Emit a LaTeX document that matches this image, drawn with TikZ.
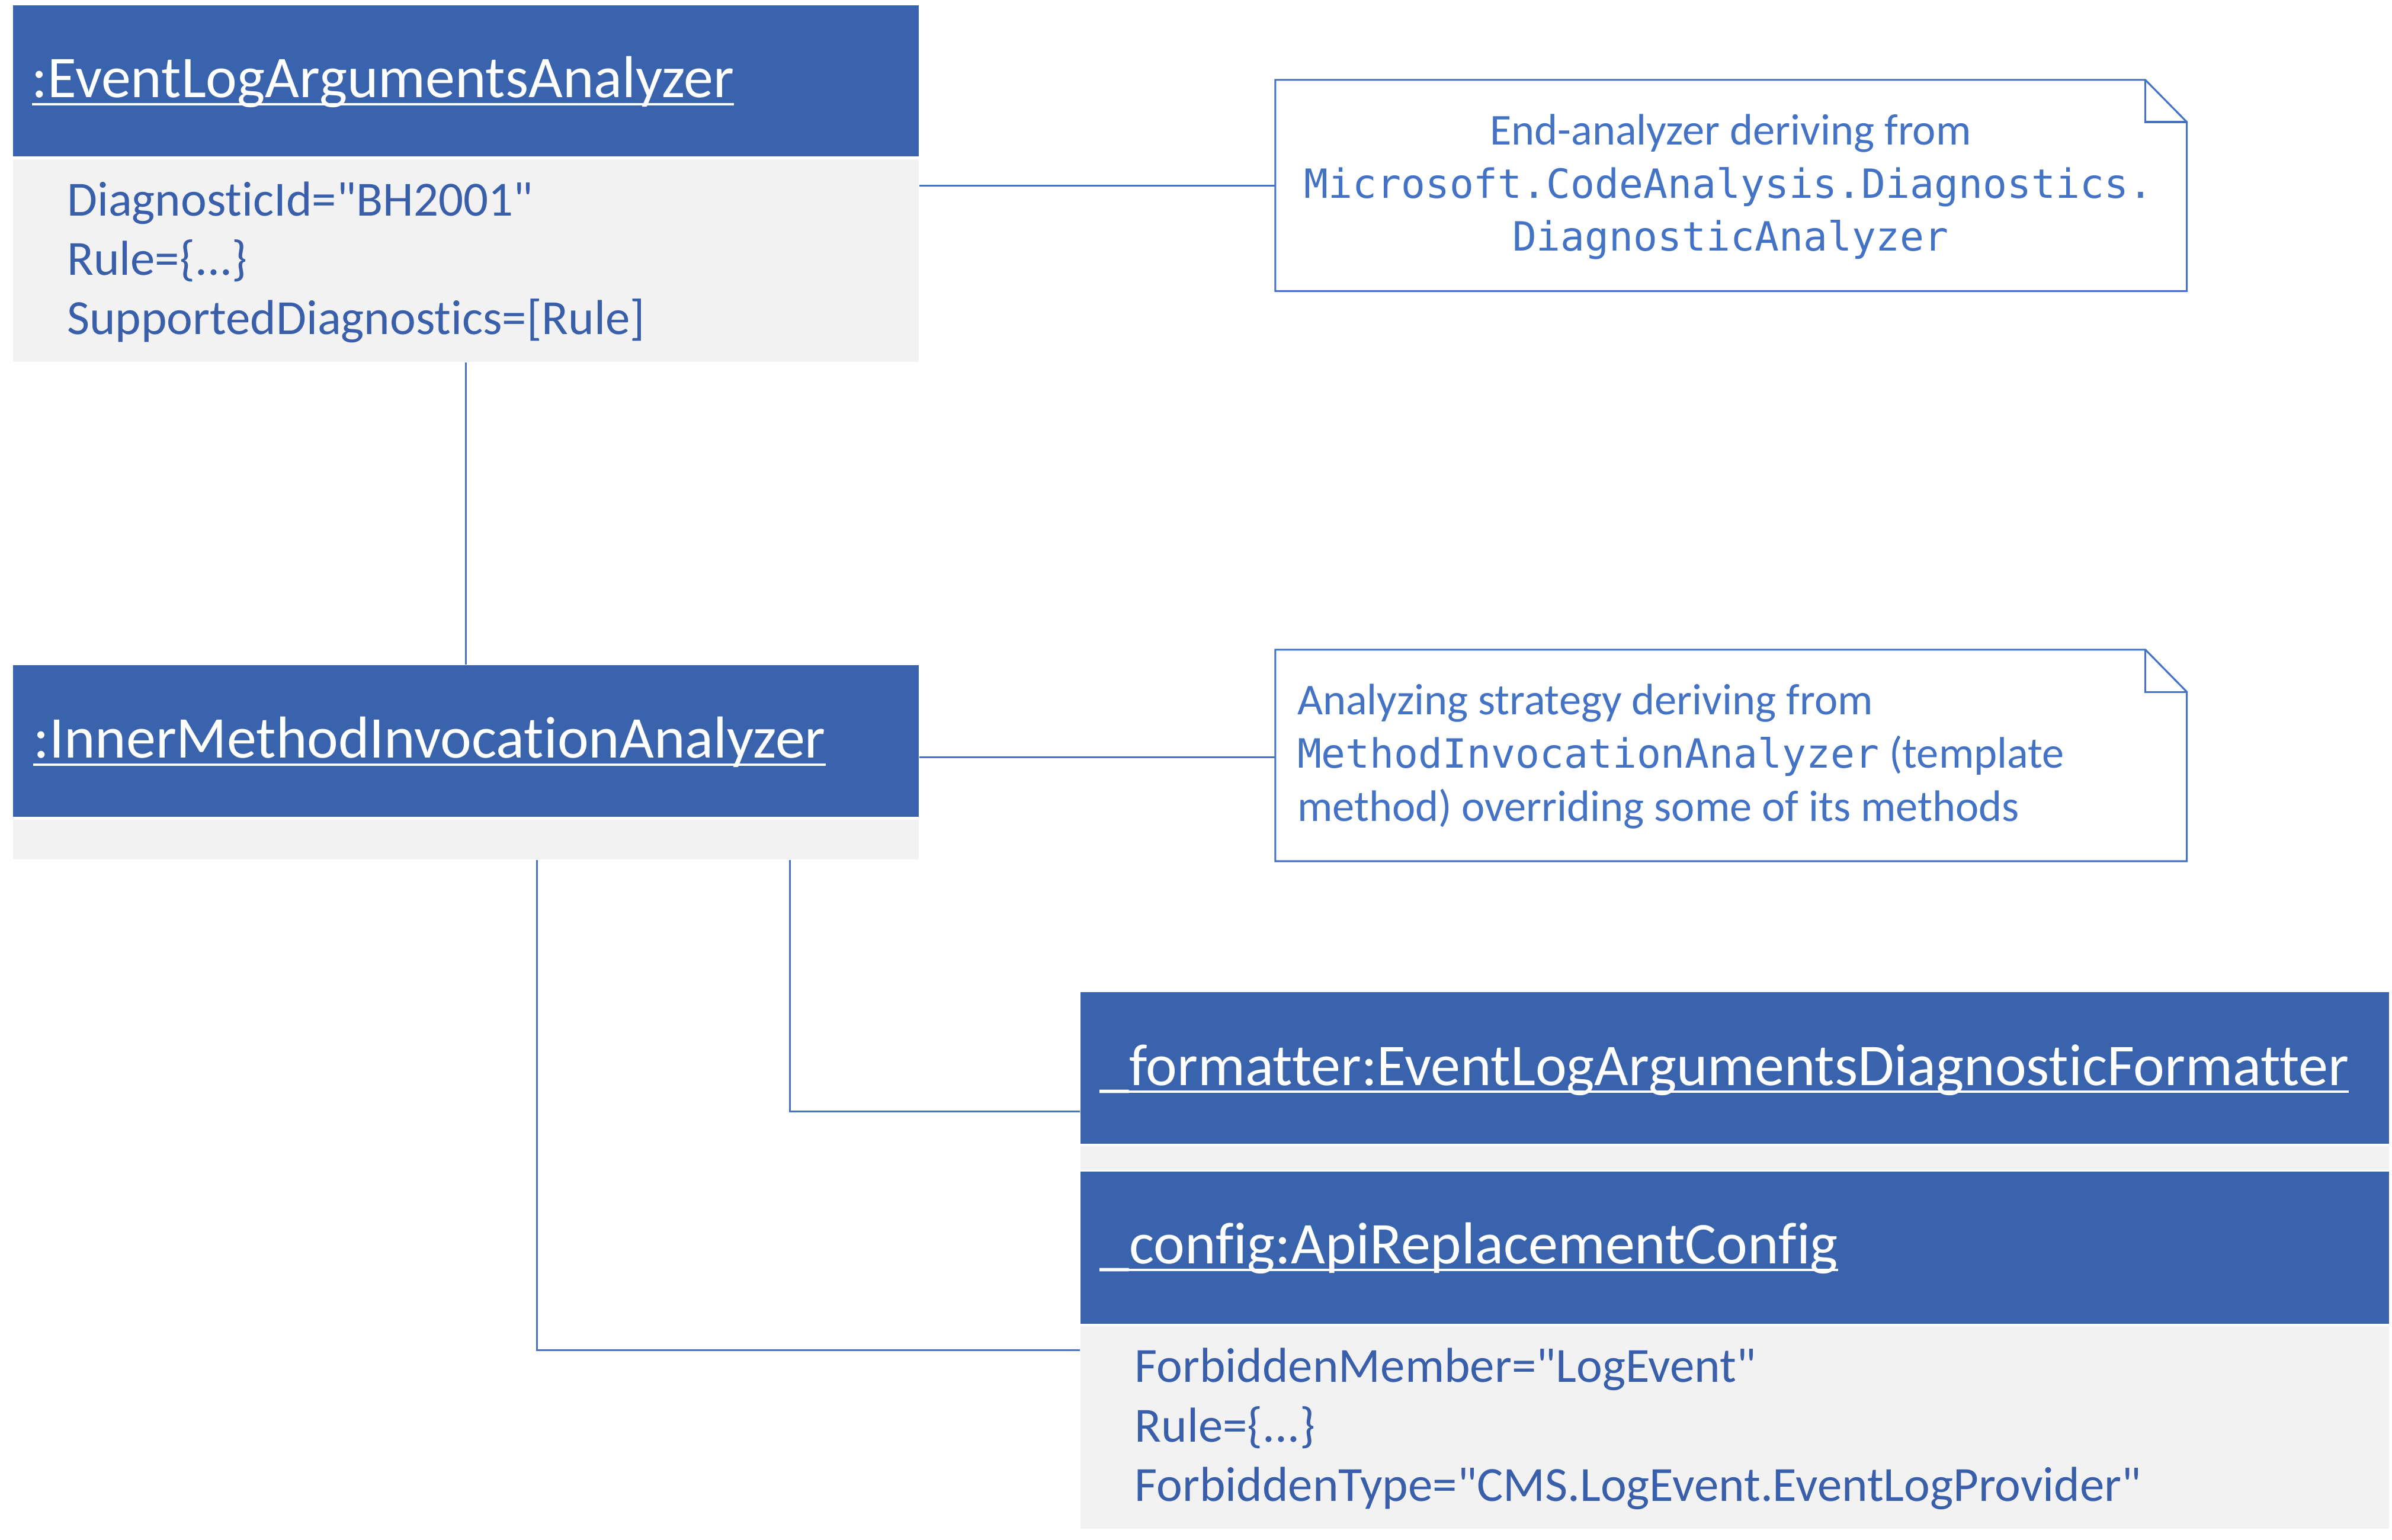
\documentclass[tikz,border=0pt]{standalone}
\usepackage{fontspec}
\setmainfont{Carlito}[Ligatures={TeXOff,NoCommon}]
\newfontfamily\codefont{DejaVu Sans Mono}[Ligatures={TeXOff}]
\usetikzlibrary{calc}
\definecolor{hdr}{HTML}{3A63AD}
\definecolor{bodyg}{HTML}{F2F2F2}
\definecolor{lnc}{HTML}{4472C4}
\definecolor{attc}{HTML}{3A5FAA}
\newcommand\uu{0.5pt}
\newcommand\hul[1]{\setbox0\hbox{#1}\rlap{\rule[-2.5pt]{\wd0}{0.8pt}}\box0}
\tikzset{
  hdrbox/.style={rectangle, fill=hdr, inner sep=0pt, anchor=north west},
  bodybox/.style={rectangle, fill=bodyg, inner sep=0pt, anchor=north west},
  notebox/.style={rectangle, inner sep=0pt, anchor=north west},
  hdrtext/.style={anchor=base west, inner sep=0pt, text=white, font=\fontsize{19.4}{23}\selectfont},
  atttext/.style={anchor=base west, inner sep=0pt, text=attc, font=\fontsize{16.1}{19.5}\selectfont},
  notetext/.style={inner sep=0pt, text=lnc, font=\fontsize{14.45}{17.5}\selectfont},
  codetext/.style={inner sep=0pt, text=lnc, font=\codefont\fontsize{13.2}{17.5}\selectfont},
  conn/.style={draw=lnc, line width=0.6pt},
  noteline/.style={draw=lnc, line width=0.6pt, line join=miter},
}
\begin{document}
\begin{tikzpicture}[x=0.5pt, y=-0.5pt]
\useasboundingbox (0,0) rectangle (1568,1009.6);

% Box 1
\node[hdrbox, minimum width=594*\uu, minimum height=99*\uu] (b1head) at (8,3) {};
\node[bodybox, minimum width=594*\uu, minimum height=133*\uu] (b1body) at (8,104) {};
\node[hdrtext] (t1) at (20.5,64) {\hul{:EventLogArgumentsAnalyzer}};
\node[atttext] (a11) at (43.5,141.6) {DiagnosticId="BH2001"};
\node[atttext] (a12) at (43.5,180.4) {Rule=\{...\}};
\node[atttext] (a13) at (43.5,219.2) {SupportedDiagnostics=[Rule]};

% Box 2
\node[hdrbox, minimum width=594*\uu, minimum height=99.5*\uu] (b2head) at (8,435.5) {};
\node[bodybox, minimum width=594*\uu, minimum height=26*\uu] (b2body) at (8,537) {};
\node[hdrtext] (t2) at (21.5,497) {\hul{:InnerMethodInvocationAnalyzer}};

% Box 3
\node[hdrbox, minimum width=857.5*\uu, minimum height=99.5*\uu] (b3head) at (708,650) {};
\node[bodybox, minimum width=857.5*\uu, minimum height=15.5*\uu] (b3body) at (708,751) {};
\node[hdrtext] (t3) at (720.5,711.5) {\hul{\_formatter:EventLogArgumentsDiagnosticFormatter}};

% Box 4
\node[hdrbox, minimum width=857.5*\uu, minimum height=100*\uu] (b4head) at (708,767.5) {};
\node[bodybox, minimum width=857.5*\uu, minimum height=133*\uu] (b4body) at (708,869) {};
\node[hdrtext] (t4) at (720.5,828.5) {\hul{\_config:ApiReplacementConfig}};
\node[atttext] (a41) at (743.5,906) {ForbiddenMember="LogEvent"};
\node[atttext] (a42) at (743.5,945.3) {Rule=\{...\}};
\node[atttext] (a43) at (743.5,984) {ForbiddenType="CMS.LogEvent.EventLogProvider"};

% Note 1
\node[notebox, minimum width=596.7*\uu, minimum height=137.6*\uu] (n1) at (836,52.4) {};
\draw[noteline] (n1.south west) -- (n1.north west) -- ($(n1.north east)+(-27.2,0)$) -- ($(n1.north east)+(0,27.6)$) -- (n1.south east) -- cycle;
\draw[noteline] ($(n1.north east)+(-27.2,0)$) |- ($(n1.north east)+(0,27.6)$);
\node[notetext, anchor=base] (n1l1) at (1134.4,94.8) {End-analyzer deriving from};
\node[codetext, anchor=base] (n1l2) at (1133,129.8) {Microsoft.CodeAnalysis.Diagnostics.};
\node[codetext, anchor=base] (n1l3) at (1134.4,164.4) {DiagnosticAnalyzer};

% Note 2
\node[notebox, minimum width=596.7*\uu, minimum height=137.9*\uu] (n2) at (836,425.9) {};
\draw[noteline] (n2.south west) -- (n2.north west) -- ($(n2.north east)+(-27.2,0)$) -- ($(n2.north east)+(0,27.7)$) -- (n2.south east) -- cycle;
\draw[noteline] ($(n2.north east)+(-27.2,0)$) |- ($(n2.north east)+(0,27.7)$);
\node[notetext, anchor=base west] (n2l1) at (850,468.6) {Analyzing strategy deriving from};
\node[notetext, anchor=base west] (n2l2) at (850,503.6) {{\codefont\fontsize{13.2}{17.5}\selectfont MethodInvocationAnalyzer} (template};
\node[notetext, anchor=base west] (n2l3) at (850,538.5) {method) overriding some of its methods};

% Connectors
\coordinate (k2) at (836,496.5);
\coordinate (k4) at (517.7,728.5);
\coordinate (k5) at (352.1,885);
\draw[conn] (n1.west -| b1body.east) -- (n1.west);
\draw[conn] (k2 -| b2head.east) -- (k2);
\draw[conn] (b1body.south) -- (b2head.north);
\draw[conn] (b2body.south -| k4) -- (k4) -- (k4 -| b3head.west);
\draw[conn] (b2body.south -| k5) -- (k5) -- (k5 -| b4body.west);
\end{tikzpicture}
\end{document}
